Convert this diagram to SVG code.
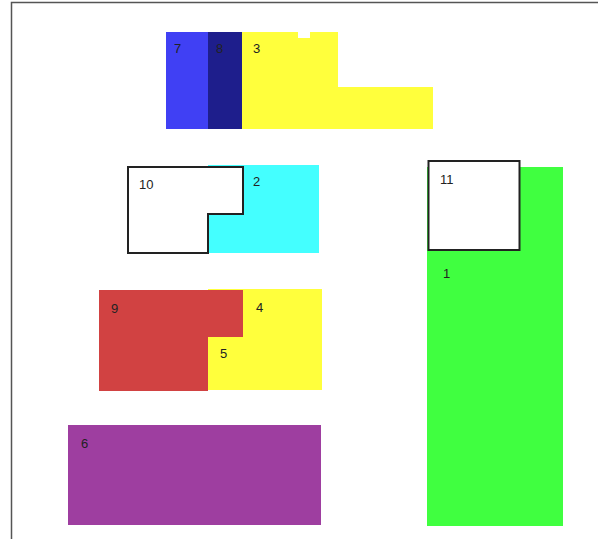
<svg xmlns="http://www.w3.org/2000/svg" width="598" height="539" viewBox="0 0 598 539">
<style>
text{font-family:"Liberation Sans",Arial,sans-serif;font-size:13px;fill:#222}
.out{fill:#fff;stroke:#222;stroke-width:2}
</style>
<rect width="598" height="539" fill="#fff"/>
<path d="M11.5 539V2.5H598" fill="none" stroke="#555" stroke-width="1.5"/>
<g id="n7"><rect x="166" y="32" width="42" height="97" fill="#4040f4"/><text x="174" y="53">7</text></g>
<g id="n8"><rect x="208" y="32" width="34" height="97" fill="#1e1e8c"/><text x="216" y="53">8</text></g>
<g id="n3"><path d="M242 32H298V38H310V32H338V87H433V129H242Z" fill="#ffff3c"/><text x="253" y="53">3</text></g>
<g id="n2"><rect x="208" y="165" width="111" height="88" fill="#44ffff"/><text x="253" y="186">2</text></g>
<g id="n10"><path class="out" d="M128 167H243V214H208V253H128Z"/><text x="139" y="189">10</text></g>
<g id="n4"><rect x="208" y="289" width="114" height="101" fill="#ffff3c"/><text x="256" y="312">4</text></g>
<g id="n5"><text x="220" y="358">5</text></g>
<g id="n9"><path d="M99 290H243V337H208V391H99Z" fill="#d14242"/><text x="111" y="313">9</text></g>
<g id="n6"><rect x="68" y="425" width="253" height="100" fill="#9e3ea0"/><text x="81" y="448">6</text></g>
<g id="n1"><rect x="427" y="167" width="136" height="359" fill="#40ff40"/><text x="443" y="278">1</text></g>
<g id="n11"><rect class="out" x="428.5" y="161" width="91" height="89"/><text x="440" y="184">11</text></g>
<g id="connectors"></g>
</svg>
